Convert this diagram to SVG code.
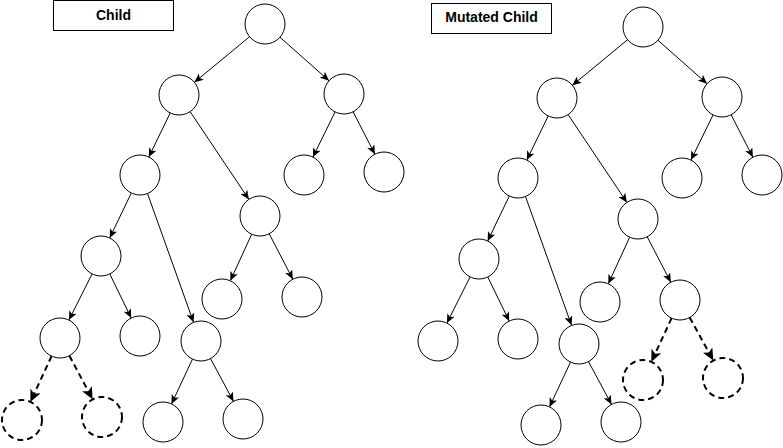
<svg xmlns="http://www.w3.org/2000/svg" width="783" height="448" viewBox="0 0 783 448">
<style>
.n{fill:#fff;stroke:#000;stroke-width:1}
.nd{fill:#fff;stroke:#000;stroke-width:2;stroke-dasharray:6 4}
.e{stroke:#000;stroke-width:1;fill:none;marker-end:url(#a)}
.ed{stroke:#000;stroke-width:2;stroke-dasharray:6 4;fill:none;marker-end:url(#ad)}
.lb{fill:#fff;stroke:#000;stroke-width:1}
.t{font-family:"Liberation Sans",Arial,sans-serif;font-weight:bold;font-size:14px;fill:#000;text-anchor:middle}
</style>
<defs>
<marker id="a" markerUnits="userSpaceOnUse" markerWidth="9" markerHeight="8" viewBox="0 0 9 8" refX="9" refY="4" orient="auto">
<path d="M0,0 L9,4 L0,8 L2.2,4 z" fill="#000"/>
</marker>
<marker id="ad" markerUnits="userSpaceOnUse" markerWidth="12" markerHeight="11" viewBox="0 0 12 11" refX="12" refY="5.5" orient="auto">
<path d="M0,0 L12,5.5 L0,11 L3,5.5 z" fill="#000"/>
</marker>
</defs>
<rect width="783" height="448" fill="#fff"/>
<g id="connectors">
<g id="connectors-child">
<line class="e" x1="249.6" y1="36.7" x2="194.4" y2="82.3"/>
<line class="e" x1="280" y1="37.3" x2="329" y2="80.7"/>
<line class="e" x1="335.1" y1="111.9" x2="312.9" y2="157.1"/>
<line class="e" x1="353.1" y1="111.8" x2="374.9" y2="154.2"/>
<line class="e" x1="170.2" y1="113" x2="148.8" y2="157"/>
<line class="e" x1="190.1" y1="111.6" x2="248.9" y2="199.4"/>
<line class="e" x1="251.7" y1="234.2" x2="230.3" y2="280.8"/>
<line class="e" x1="269.2" y1="233.8" x2="292.8" y2="279.2"/>
<line class="e" x1="131.3" y1="193" x2="109.7" y2="238"/>
<line class="e" x1="147.5" y1="193.5" x2="193.5" y2="322.2"/>
<line class="e" x1="92.1" y1="273.9" x2="68.9" y2="320.1"/>
<line class="e" x1="109.8" y1="274" x2="131.2" y2="318"/>
<line class="e" x1="192.5" y1="359.1" x2="171.5" y2="403.9"/>
<line class="e" x1="210.5" y1="358.6" x2="233.5" y2="401.4"/>
<line class="ed" x1="51.6" y1="356.1" x2="30.4" y2="401.9"/>
<line class="ed" x1="69.4" y1="355.7" x2="92.6" y2="399.3"/>
</g>
<g id="connectors-mutated" transform="translate(378,3)">
<line class="e" x1="249.6" y1="36.7" x2="194.4" y2="82.3"/>
<line class="e" x1="280" y1="37.3" x2="329" y2="80.7"/>
<line class="e" x1="335.1" y1="111.9" x2="312.9" y2="157.1"/>
<line class="e" x1="353.1" y1="111.8" x2="374.9" y2="154.2"/>
<line class="e" x1="170.2" y1="113" x2="148.8" y2="157"/>
<line class="e" x1="190.1" y1="111.6" x2="248.9" y2="199.4"/>
<line class="e" x1="251.7" y1="234.2" x2="230.3" y2="280.8"/>
<line class="e" x1="269.2" y1="233.8" x2="292.8" y2="279.2"/>
<line class="e" x1="131.3" y1="193" x2="109.7" y2="238"/>
<line class="e" x1="147.5" y1="193.5" x2="193.5" y2="322.2"/>
<line class="e" x1="92.1" y1="273.9" x2="68.9" y2="320.1"/>
<line class="e" x1="109.8" y1="274" x2="131.2" y2="318"/>
<line class="e" x1="192.5" y1="359.1" x2="171.5" y2="403.9"/>
<line class="e" x1="210.5" y1="358.6" x2="233.5" y2="401.4"/>
<line class="ed" x1="293.6" y1="315.2" x2="273.4" y2="358.8"/>
<line class="ed" x1="311.7" y1="314.5" x2="335.3" y2="357.5"/>
</g>
</g>
<g id="label-child"><rect class="lb" x="53.5" y="0.5" width="120" height="30"/><text class="t" x="113.5" y="20">Child</text></g>
<g id="label-mutated"><rect class="lb" x="431.5" y="3.5" width="120" height="30"/><text class="t" x="491.5" y="22">Mutated Child</text></g>
<g id="child-tree">
<g id="c-root"><circle class="n" cx="265" cy="24" r="20"/></g>
<g id="c-l"><circle class="n" cx="179" cy="95" r="20"/></g>
<g id="c-r"><circle class="n" cx="344" cy="94" r="20"/></g>
<g id="c-rl"><circle class="n" cx="304" cy="175" r="20"/></g>
<g id="c-rr"><circle class="n" cx="384" cy="172" r="20"/></g>
<g id="c-ll"><circle class="n" cx="140" cy="175" r="20"/></g>
<g id="c-lr"><circle class="n" cx="260" cy="216" r="20"/></g>
<g id="c-lrl"><circle class="n" cx="222" cy="299" r="20"/></g>
<g id="c-lrr"><circle class="n" cx="302" cy="297" r="20"/></g>
<g id="c-lll"><circle class="n" cx="101" cy="256" r="20"/></g>
<g id="c-llr"><circle class="n" cx="201" cy="341" r="20"/></g>
<g id="c-llll"><circle class="n" cx="60" cy="338" r="20"/></g>
<g id="c-lllr"><circle class="n" cx="140" cy="336" r="20"/></g>
<g id="c-llrl"><circle class="n" cx="163" cy="422" r="20"/></g>
<g id="c-llrr"><circle class="n" cx="243" cy="419" r="20"/></g>
<g id="c-d1"><circle class="nd" cx="22" cy="420" r="20"/></g>
<g id="c-d2"><circle class="nd" cx="102" cy="417" r="20"/></g>
</g>
<g id="mutated-tree" transform="translate(378,3)">
<g id="m-root"><circle class="n" cx="265" cy="24" r="20"/></g>
<g id="m-l"><circle class="n" cx="179" cy="95" r="20"/></g>
<g id="m-r"><circle class="n" cx="344" cy="94" r="20"/></g>
<g id="m-rl"><circle class="n" cx="304" cy="175" r="20"/></g>
<g id="m-rr"><circle class="n" cx="384" cy="172" r="20"/></g>
<g id="m-ll"><circle class="n" cx="140" cy="175" r="20"/></g>
<g id="m-lr"><circle class="n" cx="260" cy="216" r="20"/></g>
<g id="m-lrl"><circle class="n" cx="222" cy="299" r="20"/></g>
<g id="m-lrr"><circle class="n" cx="302" cy="297" r="20"/></g>
<g id="m-lll"><circle class="n" cx="101" cy="256" r="20"/></g>
<g id="m-llr"><circle class="n" cx="201" cy="341" r="20"/></g>
<g id="m-llll"><circle class="n" cx="60" cy="338" r="20"/></g>
<g id="m-lllr"><circle class="n" cx="140" cy="336" r="20"/></g>
<g id="m-llrl"><circle class="n" cx="163" cy="422" r="20"/></g>
<g id="m-llrr"><circle class="n" cx="243" cy="419" r="20"/></g>
<g id="m-d1"><circle class="nd" cx="265" cy="377" r="20"/></g>
<g id="m-d2"><circle class="nd" cx="345" cy="375" r="20"/></g>
</g>
</svg>
